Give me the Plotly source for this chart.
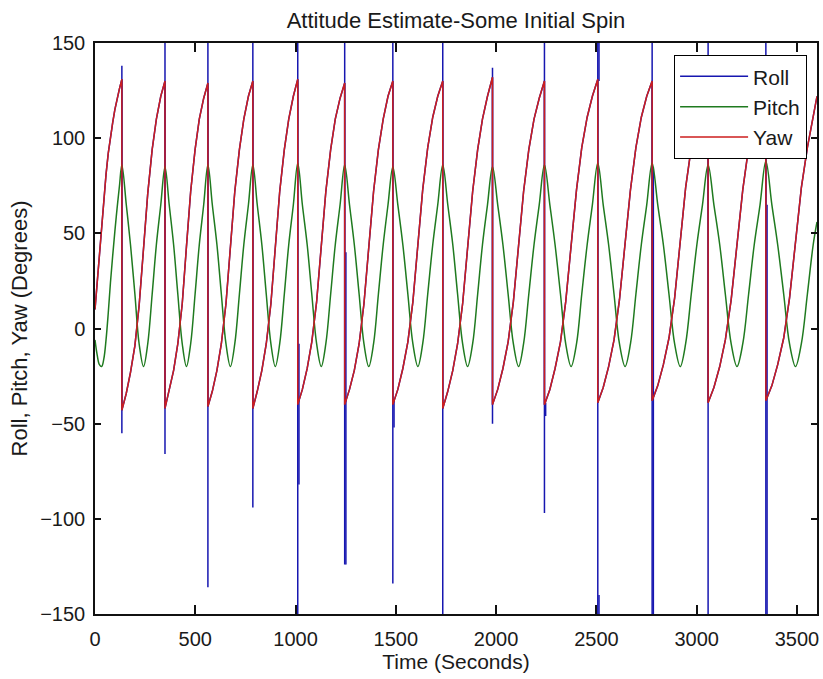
import plotly.graph_objects as go

# ---------------- data ----------------
# Yaw (degrees) – sawtooth, one row per revolution
yaw_t = [
    0, 11, 22, 33, 44, 55, 66, 77, 88, 99, 110, 122, 134,
    134, 156, 177, 199, 220, 242, 263, 285, 306, 328, 349,
    349, 370, 392, 413, 435, 456, 477, 499, 520, 542, 563,
    563, 585, 608, 630, 653, 675, 697, 720, 742, 765, 787,
    787, 809, 832, 854, 877, 899, 921, 944, 966, 989, 1011,
    1011, 1034, 1058, 1081, 1105, 1128, 1151, 1175, 1198, 1222, 1245,
    1245, 1269, 1293, 1317, 1341, 1365, 1389, 1413, 1437, 1461, 1485,
    1485, 1510, 1535, 1560, 1585, 1610, 1634, 1659, 1684, 1709, 1734,
    1734, 1759, 1784, 1808, 1833, 1858, 1883, 1908, 1932, 1957, 1982,
    1982, 2008, 2034, 2060, 2086, 2112, 2137, 2163, 2189, 2215, 2241,
    2241, 2268, 2294, 2321, 2347, 2374, 2401, 2427, 2454, 2480, 2507,
    2507, 2534, 2561, 2588, 2615, 2643, 2670, 2697, 2724, 2751, 2778,
    2778, 2806, 2834, 2862, 2890, 2918, 2945, 2973, 3001, 3029, 3057,
    3057, 3086, 3115, 3143, 3172, 3201, 3230, 3259, 3287, 3316, 3345,
    3345, 3375, 3404, 3434, 3463, 3493, 3522, 3552, 3581, 3600,
]
yaw_v = [
    10, 24, 40, 55, 69, 81, 92, 101, 108, 115, 121, 126, 131,
    -43, -34, -23, -9, 12, 42, 71, 94, 110, 122, 130,
    -42, -33, -22, -8, 13, 43, 72, 94, 110, 121, 129,
    -41, -33, -22, -8, 13, 43, 72, 94, 110, 122, 130,
    -42, -33, -22, -8, 13, 43, 72, 94, 110, 122, 131,
    -40, -32, -21, -7, 14, 44, 72, 94, 110, 121, 129,
    -40, -32, -22, -8, 13, 43, 72, 94, 110, 122, 130,
    -40, -32, -21, -7, 14, 44, 73, 95, 111, 122, 130,
    -42, -33, -22, -8, 13, 43, 72, 94, 110, 122, 132,
    -40, -32, -21, -7, 14, 44, 72, 94, 110, 121, 130,
    -40, -32, -21, -7, 14, 44, 73, 95, 111, 122, 131,
    -39, -31, -20, -6, 15, 45, 73, 95, 111, 122, 130,
    -38, -30, -19, -5, 16, 46, 74, 95, 111, 122, 130,
    -39, -31, -20, -6, 15, 45, 73, 95, 111, 122, 130,
    -38, -30, -19, -5, 16, 46, 74, 95, 111, 122,
]

# Pitch (degrees)
pitch_t = [
    0, 11, 22, 33, 44, 55, 66, 77, 88, 99, 110, 122,
    134, 156, 177, 199, 220, 242, 263, 285, 306, 328,
    349, 370, 392, 413, 435, 456, 477, 499, 520, 542,
    563, 585, 608, 630, 653, 675, 697, 720, 742, 765,
    787, 809, 832, 854, 877, 899, 921, 944, 966, 989,
    1011, 1034, 1058, 1081, 1105, 1128, 1151, 1175, 1198, 1222,
    1245, 1269, 1293, 1317, 1341, 1365, 1389, 1413, 1437, 1461,
    1485, 1510, 1535, 1560, 1585, 1610, 1634, 1659, 1684, 1709,
    1734, 1759, 1784, 1808, 1833, 1858, 1883, 1908, 1932, 1957,
    1982, 2008, 2034, 2060, 2086, 2112, 2137, 2163, 2189, 2215,
    2241, 2268, 2294, 2321, 2347, 2374, 2401, 2427, 2454, 2480,
    2507, 2534, 2561, 2588, 2615, 2643, 2670, 2697, 2724, 2751,
    2778, 2806, 2834, 2862, 2890, 2918, 2945, 2973, 3001, 3029,
    3057, 3086, 3115, 3143, 3172, 3201, 3230, 3259, 3287, 3316,
    3345, 3375, 3404, 3434, 3463, 3493, 3522, 3552, 3581, 3600,
]
pitch_v = [
    -6, -14, -19, -20, -16, -6, 8, 24, 38, 51, 63, 75,
    86, 65, 44, 18, -8, -20, -8, 18, 44, 65,
    85, 65, 44, 18, -8, -20, -8, 18, 44, 65,
    86, 65, 44, 18, -8, -20, -8, 18, 44, 65,
    86, 65, 44, 18, -8, -20, -8, 18, 44, 65,
    87, 65, 44, 18, -8, -20, -8, 18, 44, 65,
    86, 65, 44, 18, -8, -20, -8, 18, 44, 65,
    85, 65, 44, 18, -8, -20, -8, 18, 44, 65,
    86, 65, 44, 18, -8, -20, -8, 18, 44, 65,
    85, 65, 44, 18, -8, -20, -8, 18, 44, 65,
    86, 65, 44, 18, -8, -20, -8, 18, 44, 65,
    87, 65, 44, 18, -8, -20, -8, 18, 44, 65,
    87, 65, 44, 18, -8, -20, -8, 18, 44, 65,
    86, 65, 44, 18, -8, -20, -8, 18, 44, 65,
    88, 65, 44, 18, -8, -20, -8, 18, 44, 56,
]

# Roll: follows yaw, with spikes at each wrap time
wrap_t = [134, 349, 563, 787, 1011, 1245, 1485, 1734, 1982, 2241, 2507, 2778, 3057, 3345]
roll_spike_top = [138, 180, 180, 180, 180, 180, 180, 180, 137, 180, 180, 180, 180, 180]
roll_spike_bot = [-55, -66, -136, -94, -180, -124, -134, -180, -50, -97, -180, -180, -180, -180]
roll_thick_t = [1011, 1245, 1485, 2241, 2507, 2507, 2778, 3345]
roll_thick_hi = [-8, 40, -37, -39, 150, -140, 85, 65]
roll_thick_lo = [-82, -124, -52, -46, 130, -180, -180, -180]

series_names = ["Roll", "Pitch", "Yaw"]
series_colors = ["#1616b0", "#1f7a1f", "#cc1e1e"]
x_ticks = [0, 500, 1000, 1500, 2000, 2500, 3000, 3500]
y_ticks = [-150, -100, -50, 0, 50, 100, 150]

# ---------------- build roll trace from the arrays ----------------
roll_x = list(yaw_t) + [None]
roll_y = list(yaw_v) + [None]
for t, hi, lo in zip(wrap_t, roll_spike_top, roll_spike_bot):
    roll_x += [t, t, None]
    roll_y += [hi, lo, None]
for t, hi, lo in zip(roll_thick_t, roll_thick_hi, roll_thick_lo):
    roll_x += [t + 6, t + 6, None]
    roll_y += [hi, lo, None]

fig = go.Figure()
fig.add_trace(go.Scatter(x=roll_x, y=roll_y, mode="lines", name=series_names[0],
                         line=dict(color=series_colors[0], width=1.5), connectgaps=False))
fig.add_trace(go.Scatter(x=pitch_t, y=pitch_v, mode="lines", name=series_names[1],
                         line=dict(color=series_colors[1], width=1.5, shape="spline", smoothing=1.0)))
fig.add_trace(go.Scatter(x=yaw_t, y=yaw_v, mode="lines", name=series_names[2],
                         line=dict(color=series_colors[2], width=1.5)))

font_family = "Liberation Sans, Arial, Helvetica, sans-serif"
fig.update_layout(
    width=823, height=679,
    margin=dict(l=95, r=4, t=43, b=65),
    paper_bgcolor="white", plot_bgcolor="white",
    font=dict(family=font_family, size=20, color="#1a1a1a"),
    title=dict(text="Attitude Estimate-Some Initial Spin", x=0.5, xref="paper", xanchor="center",
               y=1 - 20 / 679, yref="container", yanchor="middle", font=dict(size=22)),
    legend=dict(x=0.986, y=0.979, xanchor="right", yanchor="top", bgcolor="white",
                bordercolor="black", borderwidth=1.2, font=dict(size=21), itemwidth=68,
                traceorder="normal"),
    showlegend=True,
)
fig.update_xaxes(range=[0, 3600], tickvals=x_ticks, ticks="inside", ticklen=9, tickwidth=1.5,
                 tickcolor="#111", showline=True, linecolor="#111", linewidth=1.5, mirror="ticks",
                 showgrid=False, zeroline=False, ticklabelstandoff=6,
                 title=dict(text="Time (Seconds)", standoff=4, font=dict(size=21)))
fig.update_yaxes(range=[-150, 150], tickvals=y_ticks, ticks="inside", ticklen=6, tickwidth=1.5,
                 tickcolor="#111", showline=True, linecolor="#111", linewidth=1.5, mirror="ticks",
                 showgrid=False, zeroline=False, ticklabelstandoff=4,
                 title=dict(text="Roll, Pitch, Yaw (Degrees)", standoff=6, font=dict(size=22)))

fig.write_html("out.html")
